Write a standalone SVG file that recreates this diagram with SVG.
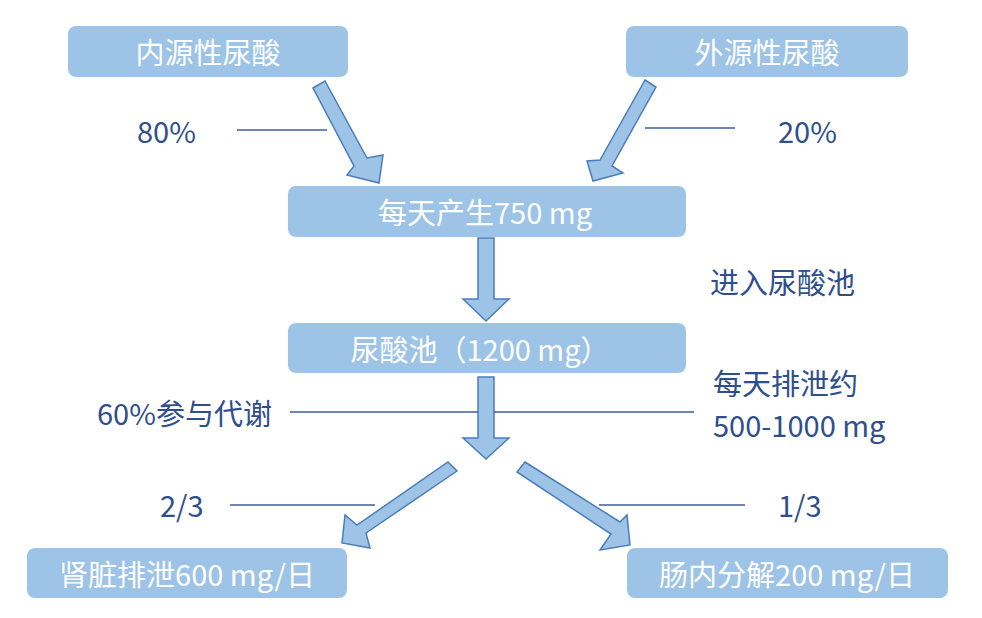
<svg xmlns="http://www.w3.org/2000/svg" width="982" height="618" viewBox="0 0 982 618">
<style>
.box{fill:#9DC3E6;}
.bt{fill:#FFFFFF;font-family:"Noto Sans CJK SC","Noto Sans",sans-serif;font-size:29px;text-anchor:middle;dominant-baseline:central;}
.lb{fill:#2F4E8C;font-family:"Noto Sans CJK SC","Noto Sans",sans-serif;font-size:29px;dominant-baseline:central;}
.arr{fill:#9DC3E6;stroke:#4A7EBB;stroke-width:1.5;stroke-linejoin:miter;}
.ln{stroke:#3E5E9E;stroke-width:1.5;fill:none;}
</style>
<rect width="982" height="618" fill="#FFFFFF"/>
<g id="connectors">
<polygon class="arr" points="313,88 325,81 367,158 383,155 379,183 347,175 354,166"/>
<polygon class="arr" points="645,80 656,87 612,166 623,173 593,181 587,161 600,160"/>
<polygon class="arr" points="478,238 494,238 494,299 509,299 486,321 463,299 478,299"/>
<polygon class="arr" points="478,377 494,377 494,438 509,438 486,459 463,438 478,438"/>
<polygon class="arr" points="448,462 457,471 366,533 370,548 342,543 345,515 357,525"/>
<polygon class="arr" points="525,462 620,522 627,515 630,545 600,550 611,534 517,472"/>
<line class="ln" x1="237" y1="130" x2="327" y2="130"/>
<line class="ln" x1="645" y1="128" x2="735" y2="128"/>
<line class="ln" x1="290" y1="412" x2="478" y2="412"/>
<line class="ln" x1="494" y1="412" x2="694" y2="412"/>
<line class="ln" x1="230" y1="505" x2="375" y2="505"/>
<line class="ln" x1="599" y1="505" x2="745" y2="505"/>
</g>
<g id="n1"><rect class="box" x="68" y="26" width="280" height="51" rx="8"/><text class="bt" x="208" y="51">内源性尿酸</text></g>
<g id="n2"><rect class="box" x="626" y="26" width="282" height="51" rx="8"/><text class="bt" x="767" y="51">外源性尿酸</text></g>
<g id="n3"><rect class="box" x="288" y="186" width="398" height="51" rx="8"/><text class="bt" x="485" y="211">每天产生750 mg</text></g>
<g id="n4"><rect class="box" x="288" y="323" width="398" height="50" rx="8"/><text class="bt" x="480" y="348">尿酸池（1200 mg）</text></g>
<g id="n5"><rect class="box" x="27" y="548" width="320" height="50" rx="8"/><text class="bt" x="187" y="573">肾脏排泄600 mg/日</text></g>
<g id="n6"><rect class="box" x="627" y="548" width="321" height="50" rx="8"/><text class="bt" x="787" y="573">肠内分解200 mg/日</text></g>
<g id="labels">
<text class="lb" x="137" y="130">80%</text>
<text class="lb" x="778" y="130">20%</text>
<text class="lb" x="710" y="281">进入尿酸池</text>
<text class="lb" x="97" y="412">60%参与代谢</text>
<text class="lb" x="713" y="382">每天排泄约</text>
<text class="lb" x="713" y="424">500-1000 mg</text>
<text class="lb" x="160" y="504">2/3</text>
<text class="lb" x="778" y="504">1/3</text>
</g>
</svg>
